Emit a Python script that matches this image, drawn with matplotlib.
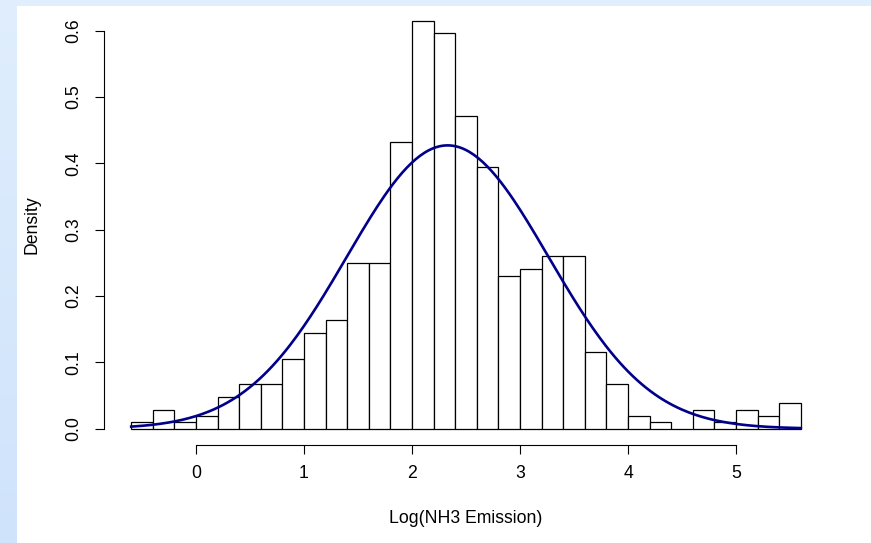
import numpy as np
import matplotlib
matplotlib.use('Agg')
import matplotlib.pyplot as plt

plt.rcParams['font.family'] = ['Liberation Sans', 'DejaVu Sans']

########### data ###########
bin_edges = np.round(np.linspace(-0.6, 5.6, 32), 1)    # bins of width 0.2
counts = [1, 3, 1, 2, 5, 7, 7, 11, 15, 17, 26, 26, 45, 64, 62, 49, 41,
          24, 25, 27, 27, 12, 7, 2, 1, 0, 3, 1, 3, 2, 4]
fit_mean = 2.33      # fitted normal curve
fit_sd = 0.934

x_ticks = [0, 1, 2, 3, 4, 5]
y_ticks = [0.0, 0.1, 0.2, 0.3, 0.4, 0.5, 0.6]
x_title = 'Log(NH3 Emission)'
y_title = 'Density'

W, H = 871, 543
fs = 12.7

fig = plt.figure(figsize=(W/100, H/100), dpi=100, facecolor='white')

##### light blue frame of the screenshot #####
bg = np.ones((H, W, 3))
top_col = np.array([224, 238, 253]) / 255.
bot_col = np.array([207, 227, 251]) / 255.
bg[:6, :, :] = top_col
frac = np.linspace(0, 1, H)[:, None]
bg[:, :17, :] = (top_col*(1-frac) + bot_col*frac)[:, None, :]
axbg = fig.add_axes([0, 0, 1, 1], zorder=-1)
axbg.imshow(bg, aspect='auto', extent=(0, 1, 0, 1), interpolation='nearest')
axbg.axis('off')

##### the histogram #####
ax = fig.add_axes([104.4/W, 98/H, 723.2/W, 440.8/H])
ax.patch.set_alpha(0)

centers = (bin_edges[:-1] + bin_edges[1:]) / 2
ax.hist(centers, bins=bin_edges, weights=counts, density=True,
        facecolor='white', edgecolor='black', linewidth=0.9, zorder=2)

xs = np.linspace(bin_edges[0], bin_edges[-1], 300)
ys = np.exp(-(xs - fit_mean)**2 / (2*fit_sd**2)) / (fit_sd*np.sqrt(2*np.pi))
ax.plot(xs, ys, color='#00008B', lw=1.9, zorder=3)

ax.set_xlim(-0.848, 5.848)
ax.set_ylim(-0.0246, 0.640)

for s in ['top', 'right']:
    ax.spines[s].set_visible(False)
ax.spines['left'].set_bounds(y_ticks[0], y_ticks[-1])
ax.spines['bottom'].set_bounds(x_ticks[0], x_ticks[-1])
for s in ['left', 'bottom']:
    ax.spines[s].set_linewidth(0.8)

ax.set_xticks(x_ticks)
ax.set_xticklabels([str(t) for t in x_ticks])
ax.set_yticks(y_ticks)
ax.set_yticklabels(['%.1f' % t for t in y_ticks], rotation=90, va='center')
ax.tick_params(axis='both', direction='out', length=6.7, width=0.8,
               labelsize=fs, colors='black')
ax.tick_params(axis='x', pad=8)
ax.tick_params(axis='y', pad=9)

fig.text(466/W, 1 - 523/H, x_title, ha='center', va='baseline', fontsize=fs)
fig.text(36.7/W, 1 - 224.5/H, y_title, ha='center', va='baseline',
         rotation=90, rotation_mode='anchor', fontsize=fs)

plt.savefig('out.png', dpi=100)
plt.close()
